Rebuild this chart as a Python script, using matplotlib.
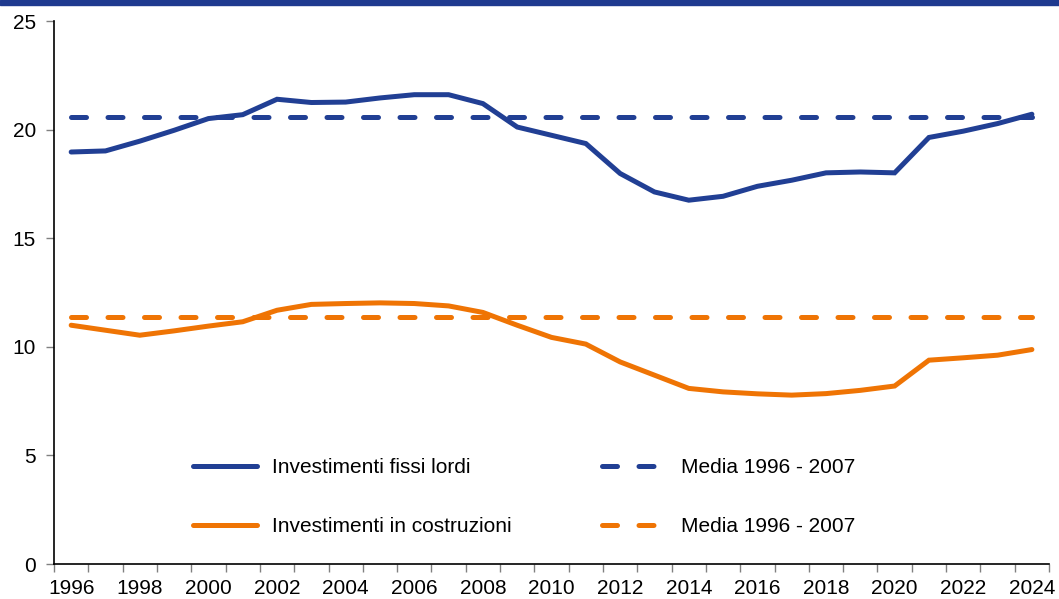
import numpy as np
import matplotlib.pyplot as plt
from matplotlib.patches import Rectangle

plt.rcParams['font.family'] = ['Liberation Sans', 'DejaVu Sans']

#############################################################################
# Data (% of GDP)
years = np.arange(1996, 2025)

fissi_lordi = [18.98, 19.03, 19.48, 19.98, 20.52, 20.70, 21.41, 21.26, 21.28, 21.47,
               21.62, 21.62, 21.21, 20.13, 19.75, 19.37, 17.99, 17.14, 16.76, 16.94,
               17.40, 17.68, 18.02, 18.06, 18.02, 19.65, 19.94, 20.29, 20.72]

costruzioni = [11.00, 10.77, 10.54, 10.74, 10.96, 11.16, 11.69, 11.96, 12.00, 12.03,
               12.00, 11.89, 11.59, 11.00, 10.44, 10.13, 9.31, 8.70, 8.09, 7.93,
               7.84, 7.78, 7.85, 8.00, 8.20, 9.39, 9.50, 9.62, 9.88]

labels = ["Investimenti fissi lordi", "Investimenti in costruzioni",
          "Media 1996 - 2007", "Media 1996 - 2007"]

blue = '#213F94'
orange = '#EF7404'

# averages over 1996-2007
in_base = (years >= 1996) & (years <= 2007)
media_fissi = np.mean(np.array(fissi_lordi)[in_base])
media_costr = np.mean(np.array(costruzioni)[in_base])

#############################################################################
fig = plt.figure(figsize=(10.59, 5.99), dpi=100)
ax = fig.add_axes([0.051, 0.0584, 0.9396, 0.906])

# dark band on top of the figure
fig.patches.append(Rectangle((0, 0.991), 1, 0.009, transform=fig.transFigure,
                             color='#1F3A8F', zorder=0))

lw = 3.6
l1, = ax.plot(years, fissi_lordi, color=blue, lw=lw, solid_capstyle='round',
              solid_joinstyle='miter')
l2, = ax.plot(years, costruzioni, color=orange, lw=lw, solid_capstyle='round',
              solid_joinstyle='miter')
l3, = ax.plot(years, np.full(len(years), media_fissi), color=blue, lw=lw,
              dashes=(3, 4.3), dash_capstyle='round')
l4, = ax.plot(years, np.full(len(years), media_costr), color=orange, lw=lw,
              dashes=(3, 4.3), dash_capstyle='round')

ax.set_xlim(1995.5, 2024.5)
ax.set_ylim(0, 25)
ax.set_yticks([0, 5, 10, 15, 20, 25])

# category-style axis: ticks on boundaries, labels in the middle
ax.set_xticks(np.arange(1995.5, 2025, 1))
ax.set_xticklabels([])
ax.set_xticks(years[::2], minor=True)
ax.set_xticklabels([str(y) for y in years[::2]], minor=True)
ax.tick_params(axis='x', which='major', length=6, color='#808080', width=1)
ax.tick_params(axis='x', which='minor', length=0, labelsize=15, pad=11)
ax.tick_params(axis='y', length=6, color='#808080', width=1, labelsize=15, pad=7)

for side in ['top', 'right']:
    ax.spines[side].set_visible(False)
for side in ['left', 'bottom']:
    ax.spines[side].set_color('black')
    ax.spines[side].set_linewidth(1.2)

fig.legend([l1, l2, l3, l4], labels, ncol=2, loc='center',
           bbox_to_anchor=(0.495, 0.170), frameon=False, fontsize=15,
           handlelength=3.1, handletextpad=0.72, labelspacing=1.9,
           columnspacing=4.3)

fig.savefig('out.png', dpi=100)
